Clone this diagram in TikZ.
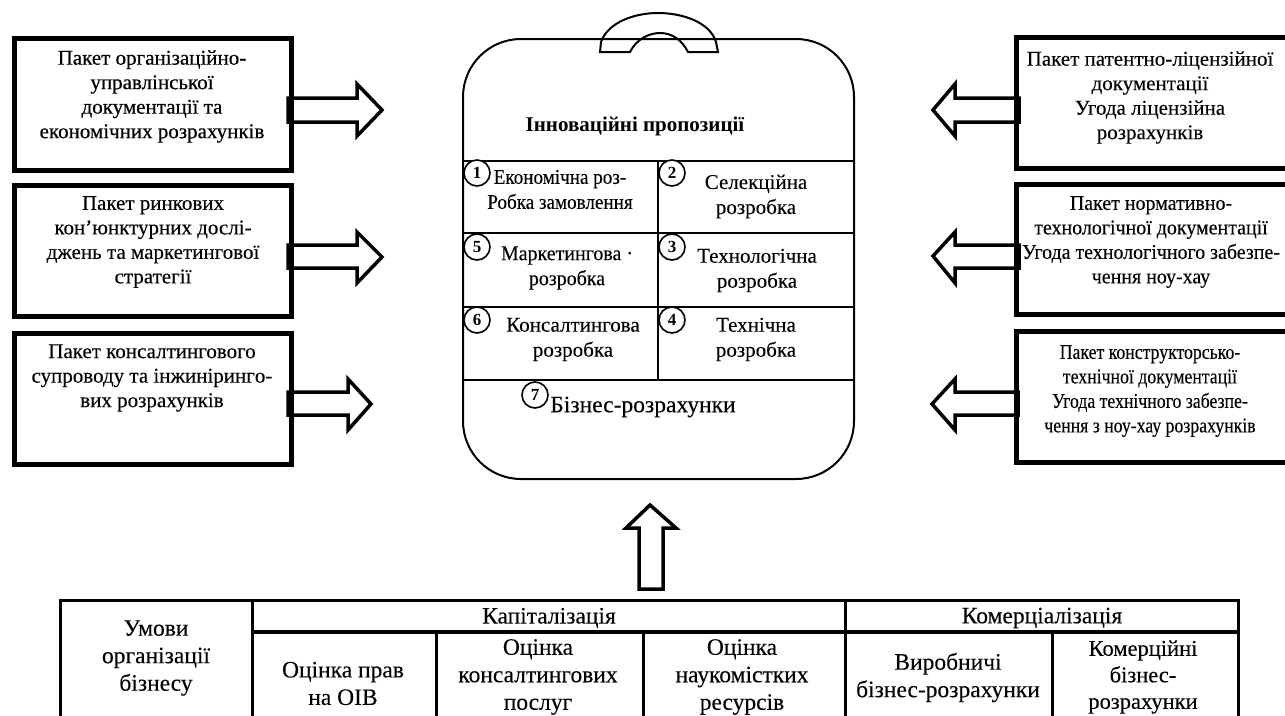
\documentclass[tikz,border=0pt]{standalone}
\usepackage{fontspec}
\setmainfont{Liberation Serif}[FakeBold=0.12]
\newfontfamily\heavy[FakeBold=0.5]{Liberation Serif}
\newfontfamily\plainbold{Liberation Serif Bold}
\tikzset{
  x=1pt,y=-1pt,
  pkgbox/.style={draw,line width=5pt,minimum width=#1,inner sep=0pt},
  blockarrow/.style={draw,line width=3.5pt,fill=white,miter limit=4},
  thinline/.style={draw,line width=2pt},
  tabline/.style={draw,line width=3pt},
  pkgtext/.style={align=center,inner sep=0pt,font=\fontsize{21}{24.5}\selectfont},
  celltext/.style={align=center,inner sep=0pt,font=\fontsize{21}{25}\selectfont},
  tabletext/.style={align=center,inner sep=0pt,font=\fontsize{23.5}{27.5}\selectfont},
  numcirc/.style={circle,draw,line width=1.6pt,fill=white,minimum size=26pt,inner sep=0pt,font=\plainbold\fontsize{17}{17}\selectfont},
}
\begin{document}
\begin{tikzpicture}
\useasboundingbox (0,0) rectangle (1285,715);
\clip (0,0) rectangle (1285,715);
% left arrows
\draw[blockarrow] (288,98) -- (357,98) -- (357,84) -- (382,110) -- (357,136) -- (357,122) -- (288,122) -- cycle;
\draw[blockarrow] (288,245) -- (357,245) -- (357,232) -- (382,257) -- (357,283) -- (357,268) -- (288,268) -- cycle;
\draw[blockarrow] (288,392) -- (348,392) -- (348,379) -- (371,404) -- (348,430) -- (348,415) -- (288,415) -- cycle;
% right arrows
\draw[blockarrow] (1019,98) -- (955,98) -- (955,84) -- (933,110) -- (955,136) -- (955,122) -- (1019,122) -- cycle;
\draw[blockarrow] (1019,245) -- (955,245) -- (955,232) -- (933,256) -- (955,283) -- (955,268) -- (1019,268) -- cycle;
\draw[blockarrow] (1018,392) -- (955,392) -- (955,379) -- (932,404) -- (955,430) -- (955,415) -- (1018,415) -- cycle;
% left boxes
\node[pkgbox=277pt,minimum height=132pt] (l1) at (152.5,104) {};
\node[pkgbox=277pt,minimum height=131pt] (l2) at (152.5,250.5) {};
\node[pkgbox=277pt,minimum height=131pt] (l3) at (152.5,398.5) {};
\node[pkgtext] (lt1) at (152,96.5) {\heavy Пакет організаційно-\\\heavy управлінської\\\heavy документації та\\\heavy економічних розрахунків};
\node[pkgtext] (lt2) at (153,242) {Пакет ринкових\\кон’юнктурних дослі-\\джень та маркетингової\\стратегії};
\node[pkgtext] (lt3) at (152,378) {Пакет консалтингового\\супроводу та інжинірингo-\\вих розрахунків};
% right boxes
\node[pkgbox=300pt,minimum height=131pt,anchor=west] (r1) at (1014,102.5) {};
\node[pkgbox=300pt,minimum height=130pt,anchor=west] (r2) at (1014,249) {};
\node[pkgbox=300pt,minimum height=131pt,anchor=west] (r3) at (1014,396.5) {};
\node[pkgtext] (rt1) at (1150,97.5) {Пакет патентно-ліцензійної\\документації\\Угода ліцензійна\\розрахунків};
\node[pkgtext,xscale=.95,transform shape] (rt2) at (1151,242) {Пакет нормативно-\\технологічної документації\\Угода технологічного забезпе-\\чення ноу-хау};
\node[pkgtext,xscale=.845,transform shape] (rt3) at (1150,391) {Пакет конструкторсько-\\технічної документації\\Угода технічного забезпе-\\чення з ноу-хау розрахунків};
% suitcase
\node[draw,line width=2pt,rounded corners=58pt,minimum width=391pt,minimum height=440pt,inner sep=0pt] (case) at (658.5,259) {};
\draw[line width=2pt] (600,52) -- (601,42) .. controls (608,22) and (635,13) .. (658,13) .. controls (682,13) and (710,22) .. (716,42) -- (718,52) -- (688,52) .. controls (682,40) and (672,33) .. (660,33) .. controls (648,33) and (636,40) .. (630,52) -- cycle;
\coordinate (s1) at (case.west |- 0,161); \coordinate (e1) at (case.east |- 0,161);
\coordinate (s2) at (case.west |- 0,233); \coordinate (e2) at (case.east |- 0,233);
\coordinate (s3) at (case.west |- 0,307); \coordinate (e3) at (case.east |- 0,307);
\coordinate (s4) at (case.west |- 0,380); \coordinate (e4) at (case.east |- 0,380);
\draw[thinline] (s1) -- (e1) (s2) -- (e2) (s3) -- (e3) (s4) -- (e4);
\coordinate (vt) at (658,161); \coordinate (vb) at (658,380);
\draw[thinline] (vt) -- (vb);
\node[align=center,inner sep=0pt,font=\plainbold\fontsize{21}{24}\selectfont] (title) at (635,126) {Інноваційні пропозиції};
\node[celltext,xscale=.91,transform shape] (c1) at (560,189.5) {Економічна роз-\\Робка замовлення};
\node[celltext] (c2) at (756,196.5) {Селекційна\\розробка};
\node[celltext,xscale=.95,transform shape] (c5) at (567,268) {Маркетингова ·\\розробка};
\node[celltext] (c3) at (757,270.5) {Технологічна\\розробка};
\node[celltext] (c6) at (573,339.5) {Консалтингова\\розробка};
\node[celltext] (c4) at (756,339.5) {Технічна\\розробка};
\node[tabletext] (c7) at (643,407) {Бізнес-розрахунки};
\node[numcirc] (n1) at (477,173) {1};
\node[numcirc] (n2) at (672,173) {2};
\node[numcirc] (n5) at (477,247) {5};
\node[numcirc] (n3) at (672,247) {3};
\node[numcirc] (n6) at (477,320) {6};
\node[numcirc] (n4) at (672,320) {4};
\node[numcirc] (n7) at (535,395) {7};
% up arrow
\draw[blockarrow] (639,589) -- (639,528) -- (626,528) -- (650,505) -- (676,528) -- (663,528) -- (663,589) -- cycle;
% table
\coordinate (tl) at (60,600); \coordinate (tr) at (1238,600);
\coordinate (bl) at (60,720); \coordinate (br) at (1238,720);
\draw[tabline] (bl) -- (tl) -- (tr) -- (br);
\draw[tabline,line width=3.6pt] (252,632) -- (1238,632);
\foreach \xx/\yy in {252/600,436/632,643/632,845/600,1052/632}{\draw[tabline] (\xx,\yy) -- (\xx,720);}
\node[tabletext] (t0) at (156,658) {Умови\\організації\\бізнесу};
\node[tabletext] (t1) at (549,618) {Капіталізація};
\node[tabletext] (t2) at (1042,618) {Комерціалізація};
\node[tabletext] (t3) at (343,683.5) {Оцінка прав\\на ОІВ};
\node[tabletext] (t4) at (538,677) {Оцінка\\консалтингових\\послуг};
\node[tabletext] (t5) at (742,677) {Оцінка\\наукомістких\\ресурсів};
\node[tabletext] (t6) at (948,677.5) {Виробничі\\бізнес-розрахунки};
\node[tabletext,font=\fontsize{22.5}{26.5}\selectfont] (t7) at (1143,677) {Комерційні\\бізнес-\\розрахунки};
\end{tikzpicture}
\end{document}
